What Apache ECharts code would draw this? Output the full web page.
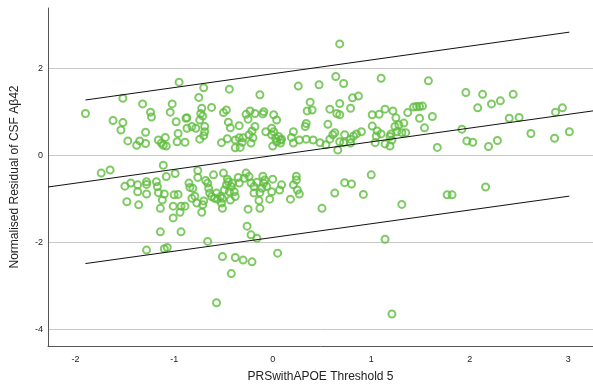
<!DOCTYPE html>
<html><head><meta charset="utf-8">
<script src="https://cdn.jsdelivr.net/npm/echarts@6/dist/echarts.min.js"></script>
<style>html,body{margin:0;padding:0;background:#fff}#c{width:593px;height:390px}</style>
</head><body><div id="c"></div>
<script>
const xTicks = [-2, -1, 0, 1, 2, 3];
const yTicks = [-4, -2, 0, 2];
const xTitle = 'PRSwithAPOE Threshold 5';
const yTitle = 'Normalised Residual of CSF Aβ42';

const pointsA = [[-1.90,0.97],[-0.95,1.69],[-0.70,1.56],[-0.44,1.53],[-1.52,1.32],[-1.32,1.19],[-1.02,1.19],[-0.75,1.34],[-0.72,1.09],[-0.62,1.11],[-1.24,1.00],[-1.23,0.89],[-1.04,1.00],[-0.73,0.97],[-0.71,0.91],[-0.74,0.82],[-0.50,0.99],[-0.47,1.05],[-0.27,0.95],[-0.23,1.03],[-0.18,0.97],[-0.25,0.84],[-1.62,0.81],[-1.52,0.76],[-1.54,0.59],[-0.98,0.78],[-0.88,0.86],[-0.87,0.87],[-0.87,0.63],[-0.82,0.67],[-0.78,0.63],[-0.69,0.67],[-0.69,0.55],[-0.45,0.77],[-0.43,0.64],[-0.34,0.69],[-1.29,0.54],[-0.96,0.51],[-0.70,0.46],[-0.74,0.38],[-1.47,0.34],[-1.35,0.34],[-1.38,0.24],[-1.29,0.28],[-1.16,0.36],[-1.13,0.29],[-1.11,0.24],[-1.08,0.22],[-1.09,0.42],[-0.97,0.32],[-0.89,0.31],[-0.52,0.30],[-0.46,0.39],[-0.38,0.36],[-0.34,0.41],[-0.30,0.41],[-0.31,0.31],[-0.38,0.18],[-0.33,0.19],[-0.24,0.48],[-0.21,0.57],[-0.18,0.67],[-0.20,0.41],[-0.22,0.29]];
const pointsB = [[0.68,2.57],[0.64,1.82],[0.72,1.66],[1.10,1.78],[0.26,1.60],[0.47,1.63],[-0.13,1.40],[0.38,1.23],[0.35,1.03],[0.40,1.05],[0.68,1.20],[0.58,1.07],[0.65,0.97],[0.68,0.94],[0.79,1.09],[0.81,1.33],[0.87,1.37],[-0.09,1.01],[-0.10,0.96],[0.01,0.94],[0.04,0.82],[-0.07,0.55],[-0.01,0.63],[0.01,0.55],[-0.01,0.48],[0.03,0.40],[0.06,0.44],[0.08,0.36],[0.04,0.32],[0.09,0.38],[0.00,0.22],[0.08,0.29],[0.21,0.55],[0.19,0.42],[0.21,0.29],[0.34,0.74],[0.33,0.67],[0.56,0.72],[0.27,0.36],[0.34,0.38],[0.41,0.36],[0.48,0.30],[0.54,0.25],[0.58,0.38],[0.61,0.48],[0.63,0.53],[0.66,0.13],[0.68,0.32],[0.73,0.48],[0.72,0.30],[0.79,0.38],[0.82,0.45],[0.85,0.50],[0.90,0.55],[0.79,0.29],[1.01,0.94],[1.08,0.95],[1.14,1.07],[1.22,1.03],[1.25,0.87],[1.37,0.99],[1.01,0.68],[1.06,0.57],[1.10,0.50],[1.05,0.45],[1.19,0.44],[1.20,0.50],[1.24,0.67],[1.28,0.71],[1.33,0.75],[1.26,0.55],[1.31,0.53],[1.35,0.53],[1.04,0.30],[1.14,0.27],[1.19,0.22],[1.21,0.36]];
const pointsC = [[1.58,1.72],[1.96,1.45],[2.13,1.41],[2.44,1.41],[2.22,1.19],[2.31,1.26],[2.08,1.10],[1.43,1.12],[1.46,1.13],[1.49,1.13],[1.52,1.14],[1.62,0.90],[1.49,0.86],[1.54,0.64],[1.92,0.61],[2.40,0.86],[2.50,0.88],[2.87,1.00],[2.94,1.10],[2.62,0.51],[3.01,0.55],[2.86,0.40],[1.67,0.19],[1.97,0.34],[2.03,0.31],[2.19,0.21],[2.28,0.35]];
const pointsD = [[-1.74,-0.40],[-1.65,-0.33],[-1.11,-0.22],[-1.08,-0.48],[-0.99,-0.41],[-0.76,-0.34],[-0.76,-0.50],[-0.60,-0.44],[-0.50,-0.40],[-0.46,-0.54],[-0.35,-0.50],[-0.27,-0.40],[-0.24,-0.48],[-1.50,-0.70],[-1.44,-0.63],[-1.37,-0.67],[-1.37,-0.83],[-1.28,-0.60],[-1.28,-0.66],[-1.28,-0.88],[-1.18,-0.60],[-1.17,-0.71],[-1.16,-0.85],[-1.10,-0.88],[-1.12,-1.02],[-1.48,-1.06],[-1.36,-1.13],[-1.00,-0.90],[-0.96,-0.89],[-1.01,-1.16],[-0.93,-1.16],[-0.89,-1.16],[-0.94,-1.30],[-1.01,-1.43],[-1.14,-1.21],[-0.85,-0.63],[-0.84,-0.73],[-0.81,-0.75],[-0.82,-0.98],[-0.79,-0.93],[-0.77,-1.09],[-0.71,-1.13],[-0.72,-1.30],[-0.70,-1.04],[-0.68,-0.57],[-0.66,-0.63],[-0.65,-0.75],[-0.64,-0.86],[-0.62,-0.94],[-0.59,-0.98],[-0.56,-1.00],[-0.53,-0.94],[-0.51,-0.98],[-0.52,-1.09],[-0.51,-1.21],[-0.49,-0.79],[-0.47,-0.67],[-0.45,-0.60],[-0.41,-0.63],[-0.44,-0.83],[-0.43,-1.02],[-0.39,-0.83],[-0.38,-0.94],[-0.42,-0.71],[-0.57,-0.86],[-0.34,-0.63],[-0.29,-0.52],[-0.22,-0.63],[-0.19,-0.71],[-0.25,-1.23],[-1.14,-1.75],[-0.93,-1.75],[-0.26,-1.62],[-0.22,-1.82],[-0.66,-1.97],[-1.28,-2.17],[-1.10,-2.14],[-1.07,-2.11]];
const pointsE = [[-0.10,-0.47],[-0.08,-0.56],[-0.09,-0.63],[-0.06,-0.71],[-0.11,-0.75],[-0.13,-0.85],[-0.16,-0.61],[0.00,-0.54],[0.09,-0.67],[0.07,-0.79],[-0.01,-0.83],[-0.03,-1.00],[-0.14,-1.03],[-0.13,-1.21],[0.24,-0.47],[0.24,-0.56],[0.21,-0.67],[0.25,-0.79],[0.27,-0.88],[0.18,-1.00],[0.73,-0.62],[0.80,-0.65],[1.00,-0.44],[0.92,-0.89],[0.63,-0.86],[0.50,-1.21],[1.31,-1.12],[-0.16,-1.90],[1.14,-1.92],[-0.51,-2.32],[-0.38,-2.34],[-0.30,-2.40],[-0.21,-2.44],[-0.42,-2.71],[-0.57,-3.38],[0.05,-2.24],[1.21,-3.64],[1.77,-0.90],[1.82,-0.90],[2.16,-0.72],[-0.19,-0.86]];

const fitX = [-2.28, 3.25], fitY = [-0.72, 1.03];
const upperX = [-1.90, 3.01], upperY = [1.28, 2.84];
const lowerX = [-1.90, 3.01], lowerY = [-2.48, -0.93];

const points = pointsA.concat(pointsB, pointsC, pointsD, pointsE);
const pair = (xs, ys) => xs.map((x, i) => [x, ys[i]]);
const font = "'Liberation Sans', Arial, sans-serif";
const green = '#5fbd3f';

const lineSeries = (xs, ys) => ({
  type: 'line', data: pair(xs, ys), symbol: 'none', silent: true, z: 5,
  lineStyle: { color: '#111', width: 1 }
});

const chart = echarts.init(document.getElementById('c'), null, { renderer: 'canvas' });
chart.setOption({
  animation: false,
  backgroundColor: '#fff',
  textStyle: { fontFamily: font },
  grid: { left: 48, right: 0, top: 8, bottom: 44, containLabel: false },
  xAxis: {
    type: 'value', min: -2.28, max: 3.25,
    name: xTitle, nameLocation: 'middle', nameGap: 25,
    nameTextStyle: { fontSize: 12, color: '#222', fontFamily: font },
    axisLine: { show: true, onZero: false, lineStyle: { color: '#555', width: 1 } },
    axisTick: { show: false, customValues: xTicks },
    axisLabel: { customValues: xTicks, fontSize: 9, color: '#222', margin: 9, fontFamily: font },
    splitLine: { show: false }
  },
  yAxis: {
    type: 'value', min: -4.375, max: 3.395,
    name: yTitle, nameLocation: 'middle', nameGap: 27, nameRotate: 90,
    nameTextStyle: { fontSize: 12, color: '#222', fontFamily: font },
    axisLine: { show: true, onZero: false, lineStyle: { color: '#555', width: 1 } },
    axisTick: { show: false, customValues: yTicks },
    axisLabel: { customValues: yTicks, fontSize: 9, color: '#222', margin: 5, fontFamily: font },
    splitLine: { show: true, lineStyle: { color: '#c8c8c8', width: 1 } }
  },
  series: [
    {
      type: 'scatter', data: points, symbol: 'circle', symbolSize: 7, z: 2,
      itemStyle: { color: 'rgba(255,255,255,0)', borderColor: green, borderWidth: 2 }
    },
    lineSeries(fitX, fitY),
    lineSeries(upperX, upperY),
    lineSeries(lowerX, lowerY)
  ]
});
</script></body></html>
